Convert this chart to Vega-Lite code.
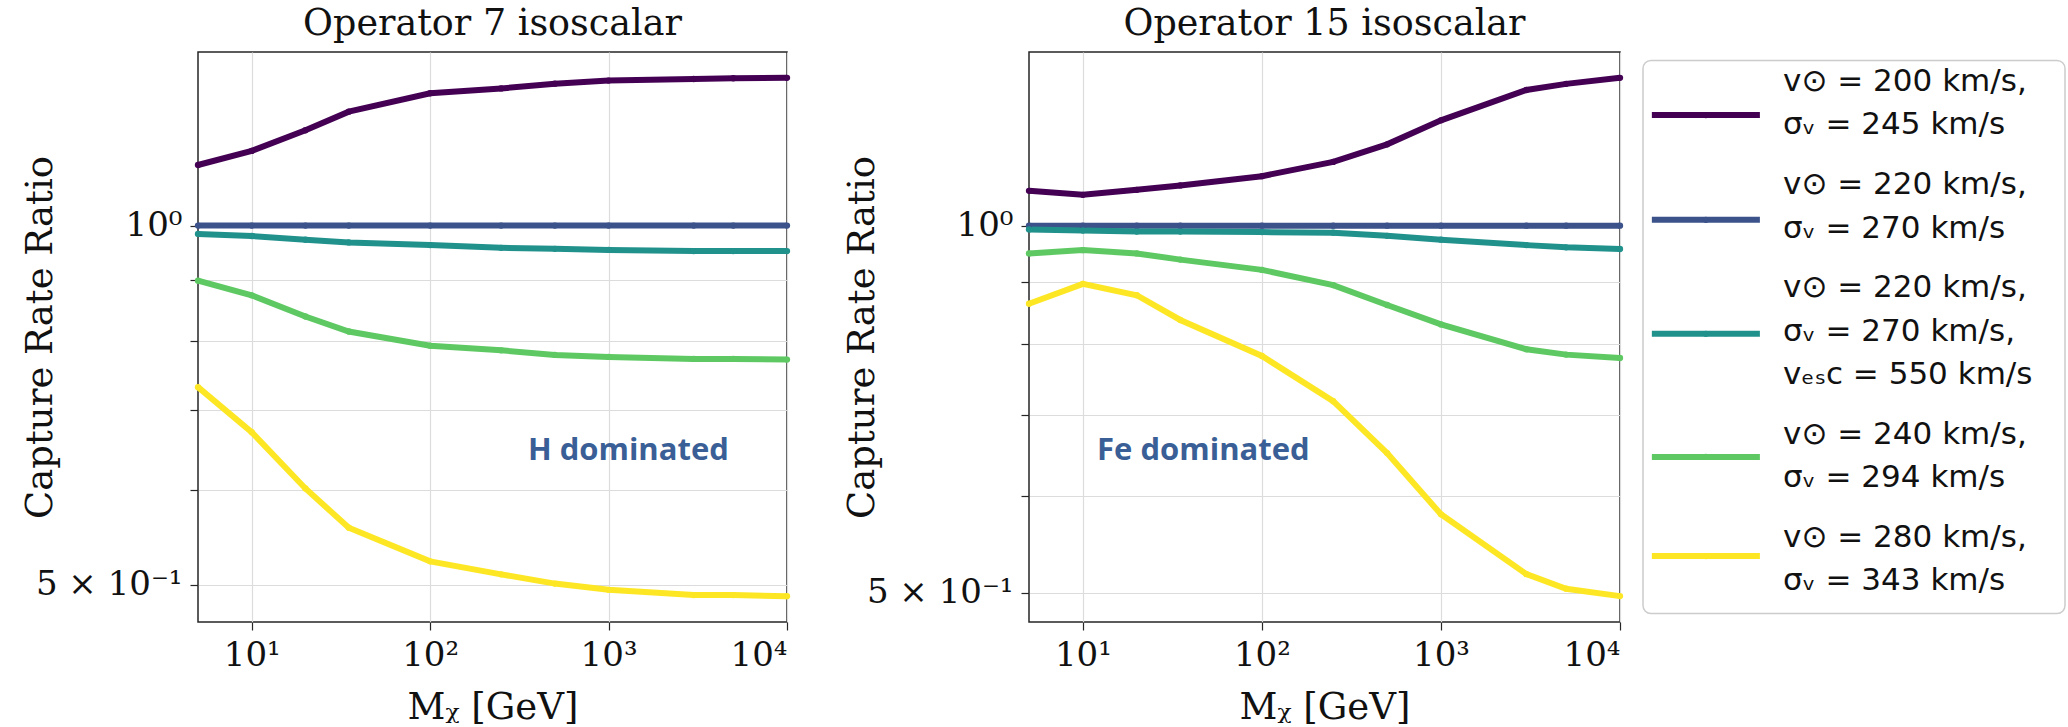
{
  "$schema": "https://vega.github.io/schema/vega-lite/v6.json",
  "autosize": {"type": "none"},
  "padding": {"left": 198, "top": 52, "right": 1870, "bottom": 675},
  "background": "white",
  "datasets": {
    "op7": [
      {"series": "200/245", "m": 5, "ratio": 1.124}, {"series": "200/245", "m": 10, "ratio": 1.155}, {"series": "200/245", "m": 20, "ratio": 1.202}, {"series": "200/245", "m": 35, "ratio": 1.246}, {"series": "200/245", "m": 100, "ratio": 1.291}, {"series": "200/245", "m": 250, "ratio": 1.303}, {"series": "200/245", "m": 500, "ratio": 1.315}, {"series": "200/245", "m": 1000, "ratio": 1.323}, {"series": "200/245", "m": 3000, "ratio": 1.327}, {"series": "200/245", "m": 5000, "ratio": 1.329}, {"series": "200/245", "m": 10000, "ratio": 1.330},
      {"series": "220/270", "m": 5, "ratio": 1.0}, {"series": "220/270", "m": 10, "ratio": 1.0}, {"series": "220/270", "m": 20, "ratio": 1.0}, {"series": "220/270", "m": 35, "ratio": 1.0}, {"series": "220/270", "m": 100, "ratio": 1.0}, {"series": "220/270", "m": 250, "ratio": 1.0}, {"series": "220/270", "m": 500, "ratio": 1.0}, {"series": "220/270", "m": 1000, "ratio": 1.0}, {"series": "220/270", "m": 3000, "ratio": 1.0}, {"series": "220/270", "m": 5000, "ratio": 1.0}, {"series": "220/270", "m": 10000, "ratio": 1.0},
      {"series": "220/270/550", "m": 5, "ratio": 0.984}, {"series": "220/270/550", "m": 10, "ratio": 0.980}, {"series": "220/270/550", "m": 20, "ratio": 0.973}, {"series": "220/270/550", "m": 35, "ratio": 0.968}, {"series": "220/270/550", "m": 100, "ratio": 0.963}, {"series": "220/270/550", "m": 250, "ratio": 0.958}, {"series": "220/270/550", "m": 500, "ratio": 0.956}, {"series": "220/270/550", "m": 1000, "ratio": 0.954}, {"series": "220/270/550", "m": 3000, "ratio": 0.952}, {"series": "220/270/550", "m": 5000, "ratio": 0.952}, {"series": "220/270/550", "m": 10000, "ratio": 0.952},
      {"series": "240/294", "m": 5, "ratio": 0.899}, {"series": "240/294", "m": 10, "ratio": 0.874}, {"series": "240/294", "m": 20, "ratio": 0.839}, {"series": "240/294", "m": 35, "ratio": 0.815}, {"series": "240/294", "m": 100, "ratio": 0.793}, {"series": "240/294", "m": 250, "ratio": 0.786}, {"series": "240/294", "m": 500, "ratio": 0.779}, {"series": "240/294", "m": 1000, "ratio": 0.776}, {"series": "240/294", "m": 3000, "ratio": 0.773}, {"series": "240/294", "m": 5000, "ratio": 0.773}, {"series": "240/294", "m": 10000, "ratio": 0.772},
      {"series": "280/343", "m": 5, "ratio": 0.732}, {"series": "280/343", "m": 10, "ratio": 0.671}, {"series": "280/343", "m": 20, "ratio": 0.602}, {"series": "280/343", "m": 35, "ratio": 0.558}, {"series": "280/343", "m": 100, "ratio": 0.523}, {"series": "280/343", "m": 250, "ratio": 0.510}, {"series": "280/343", "m": 500, "ratio": 0.501}, {"series": "280/343", "m": 1000, "ratio": 0.495}, {"series": "280/343", "m": 3000, "ratio": 0.490}, {"series": "280/343", "m": 5000, "ratio": 0.490}, {"series": "280/343", "m": 10000, "ratio": 0.489}
    ],
    "op15": [
      {"series": "200/245", "m": 5, "ratio": 1.068}, {"series": "200/245", "m": 10, "ratio": 1.060}, {"series": "200/245", "m": 20, "ratio": 1.070}, {"series": "200/245", "m": 35, "ratio": 1.079}, {"series": "200/245", "m": 100, "ratio": 1.098}, {"series": "200/245", "m": 250, "ratio": 1.128}, {"series": "200/245", "m": 500, "ratio": 1.166}, {"series": "200/245", "m": 1000, "ratio": 1.220}, {"series": "200/245", "m": 3000, "ratio": 1.292}, {"series": "200/245", "m": 5000, "ratio": 1.307}, {"series": "200/245", "m": 10000, "ratio": 1.322},
      {"series": "220/270", "m": 5, "ratio": 1.0}, {"series": "220/270", "m": 10, "ratio": 1.0}, {"series": "220/270", "m": 20, "ratio": 1.0}, {"series": "220/270", "m": 35, "ratio": 1.0}, {"series": "220/270", "m": 100, "ratio": 1.0}, {"series": "220/270", "m": 250, "ratio": 1.0}, {"series": "220/270", "m": 500, "ratio": 1.0}, {"series": "220/270", "m": 1000, "ratio": 1.0}, {"series": "220/270", "m": 3000, "ratio": 1.0}, {"series": "220/270", "m": 5000, "ratio": 1.0}, {"series": "220/270", "m": 10000, "ratio": 1.0},
      {"series": "220/270/550", "m": 5, "ratio": 0.993}, {"series": "220/270/550", "m": 10, "ratio": 0.991}, {"series": "220/270/550", "m": 20, "ratio": 0.989}, {"series": "220/270/550", "m": 35, "ratio": 0.989}, {"series": "220/270/550", "m": 100, "ratio": 0.988}, {"series": "220/270/550", "m": 250, "ratio": 0.987}, {"series": "220/270/550", "m": 500, "ratio": 0.981}, {"series": "220/270/550", "m": 1000, "ratio": 0.974}, {"series": "220/270/550", "m": 3000, "ratio": 0.964}, {"series": "220/270/550", "m": 5000, "ratio": 0.960}, {"series": "220/270/550", "m": 10000, "ratio": 0.957},
      {"series": "240/294", "m": 5, "ratio": 0.949}, {"series": "240/294", "m": 10, "ratio": 0.955}, {"series": "240/294", "m": 20, "ratio": 0.949}, {"series": "240/294", "m": 35, "ratio": 0.938}, {"series": "240/294", "m": 100, "ratio": 0.920}, {"series": "240/294", "m": 250, "ratio": 0.894}, {"series": "240/294", "m": 500, "ratio": 0.861}, {"series": "240/294", "m": 1000, "ratio": 0.830}, {"series": "240/294", "m": 3000, "ratio": 0.792}, {"series": "240/294", "m": 5000, "ratio": 0.784}, {"series": "240/294", "m": 10000, "ratio": 0.779},
      {"series": "280/343", "m": 5, "ratio": 0.863}, {"series": "280/343", "m": 10, "ratio": 0.896}, {"series": "280/343", "m": 20, "ratio": 0.877}, {"series": "280/343", "m": 35, "ratio": 0.837}, {"series": "280/343", "m": 100, "ratio": 0.782}, {"series": "280/343", "m": 250, "ratio": 0.718}, {"series": "280/343", "m": 500, "ratio": 0.651}, {"series": "280/343", "m": 1000, "ratio": 0.580}, {"series": "280/343", "m": 3000, "ratio": 0.518}, {"series": "280/343", "m": 5000, "ratio": 0.504}, {"series": "280/343", "m": 10000, "ratio": 0.497}
    ],
    "legendKeys": [
      {"series": "200/245", "slot": 0.76},
      {"series": "220/270", "slot": 3.17},
      {"series": "220/270/550", "slot": 5.79},
      {"series": "240/294", "slot": 8.62},
      {"series": "280/343", "slot": 10.9}
    ],
    "legendText": [
      {"text": "v⊙ = 200 km/s,", "slot": 0},
      {"text": "\u00a0σᵥ = 245 km/s", "slot": 1},
      {"text": "v⊙ = 220 km/s,", "slot": 2.37},
      {"text": "\u00a0σᵥ = 270 km/s", "slot": 3.37},
      {"text": "v⊙ = 220 km/s,", "slot": 4.74},
      {"text": "\u00a0σᵥ = 270 km/s,", "slot": 5.74},
      {"text": "\u00a0vₑₛc = 550 km/s", "slot": 6.74},
      {"text": "v⊙ = 240 km/s,", "slot": 8.11},
      {"text": "\u00a0σᵥ = 294 km/s", "slot": 9.11},
      {"text": "v⊙ = 280 km/s,", "slot": 10.48},
      {"text": "\u00a0σᵥ = 343 km/s", "slot": 11.48}
    ]
  },
  "config": {
    "view": {"stroke": "#262626", "strokeWidth": 1.5},
    "font": "DejaVu Serif",
    "axis": {
      "grid": true, "gridColor": "#dcdcdc", "gridWidth": 1.2, "domain": false,
      "tickColor": "#262626", "tickSize": 8, "tickWidth": 1.2,
      "labelFont": "DejaVu Serif", "labelFontSize": 34, "labelColor": "#111111", "labelPadding": 8,
      "titleFont": "DejaVu Serif", "titleFontSize": 37, "titleFontWeight": "normal", "titleColor": "#111111"
    },
    "title": {"font": "DejaVu Serif", "fontSize": 36.5, "fontWeight": "normal", "color": "#111111", "offset": 10, "baseline": "alphabetic"}
  },
  "spacing": 23,
  "bounds": "flush",
  "center": true,
  "hconcat": [
    {
      "width": 589, "height": 570,
      "title": {"text": "Operator 7 isoscalar"},
      "layer": [
        {
          "data": {"name": "op7"},
          "mark": {"type": "line", "strokeWidth": 6, "point": {"filled": true, "size": 40}},
          "encoding": {
            "x": {"field": "m", "type": "quantitative", "scale": {"type": "log", "domain": [5, 10000], "nice": false},
              "axis": {"values": [10, 100, 1000, 10000], "labelExpr": "datum.value == 10 ? '10¹' : datum.value == 100 ? '10²' : datum.value == 1000 ? '10³' : '10⁴'", "labelBaseline": "top", "title": "Mᵪ [GeV]", "titleY": 96, "titleBaseline": "alphabetic"}},
            "y": {"field": "ratio", "type": "quantitative", "scale": {"type": "log", "domain": [0.4652, 1.398], "nice": false},
              "axis": {"values": [0.5, 0.6, 0.7, 0.8, 0.9, 1], "labelExpr": "datum.value == 1 ? '10⁰' : (datum.value == 0.5 ? '5 × 10⁻¹' : '')", "title": "Capture Rate Ratio", "titleX": -158, "titleY": 285, "titleAlign": "center", "titleBaseline": "middle", "titleAngle": -90}},
            "color": {"field": "series", "type": "nominal", "scale": {"domain": ["200/245", "220/270", "220/270/550", "240/294", "280/343"], "range": ["#440154", "#3b528b", "#21918c", "#5ec962", "#fde725"]}, "legend": null}
          }
        },
        {
          "data": {"values": [{"note": "H dominated", "m": 353, "ratio": 0.636}]},
          "mark": {"type": "text", "font": "Open Sans", "fontWeight": "bold", "fontSize": 31, "color": "#3a5f96", "align": "left", "baseline": "alphabetic"},
          "encoding": {
            "x": {"field": "m", "type": "quantitative"},
            "y": {"field": "ratio", "type": "quantitative"},
            "text": {"field": "note"}
          }
        }
      ]
    },
    {
      "width": 196, "height": 570,
      "view": {"stroke": null},
      "data": {"values": []},
      "mark": "point"
    },
    {
      "width": 591, "height": 570,
      "title": {"text": "Operator 15 isoscalar"},
      "layer": [
        {
          "data": {"name": "op15"},
          "mark": {"type": "line", "strokeWidth": 6, "point": {"filled": true, "size": 40}},
          "encoding": {
            "x": {"field": "m", "type": "quantitative", "scale": {"type": "log", "domain": [5, 10000], "nice": false},
              "axis": {"values": [10, 100, 1000, 10000], "labelExpr": "datum.value == 10 ? '10¹' : datum.value == 100 ? '10²' : datum.value == 1000 ? '10³' : '10⁴'", "labelBaseline": "top", "title": "Mᵪ [GeV]", "titleY": 96, "titleBaseline": "alphabetic"}},
            "y": {"field": "ratio", "type": "quantitative", "scale": {"type": "log", "domain": [0.4733, 1.388], "nice": false},
              "axis": {"values": [0.5, 0.6, 0.7, 0.8, 0.9, 1], "labelExpr": "datum.value == 1 ? '10⁰' : (datum.value == 0.5 ? '5 × 10⁻¹' : '')", "title": "Capture Rate Ratio", "titleX": -167, "titleY": 285, "titleAlign": "center", "titleBaseline": "middle", "titleAngle": -90}},
            "color": {"field": "series", "type": "nominal", "scale": {"domain": ["200/245", "220/270", "220/270/550", "240/294", "280/343"], "range": ["#440154", "#3b528b", "#21918c", "#5ec962", "#fde725"]}, "legend": null}
          }
        },
        {
          "data": {"values": [{"note": "Fe dominated", "m": 12.0, "ratio": 0.643}]},
          "mark": {"type": "text", "font": "Open Sans", "fontWeight": "bold", "fontSize": 31, "color": "#3a5f96", "align": "left", "baseline": "alphabetic"},
          "encoding": {
            "x": {"field": "m", "type": "quantitative"},
            "y": {"field": "ratio", "type": "quantitative"},
            "text": {"field": "note"}
          }
        }
      ]
    },
    {
      "width": 422, "height": 553,
      "view": {"stroke": "#cccccc", "strokeWidth": 1.5, "cornerRadius": 8, "fill": "white"},
      "layer": [
        {
          "data": {"name": "legendKeys"},
          "mark": {"type": "rule", "strokeWidth": 6},
          "encoding": {
            "x": {"datum": 0.021, "type": "quantitative", "scale": {"domain": [0, 1], "nice": false, "zero": false}, "axis": null},
            "x2": {"datum": 0.277},
            "y": {"field": "slot", "type": "quantitative", "scale": {"domain": [-0.494, 12.22], "reverse": true, "nice": false, "zero": false}, "axis": null},
            "color": {"field": "series", "type": "nominal", "scale": {"domain": ["200/245", "220/270", "220/270/550", "240/294", "280/343"], "range": ["#440154", "#3b528b", "#21918c", "#5ec962", "#fde725"]}, "legend": null}
          }
        },
        {
          "data": {"name": "legendKeys"},
          "mark": {"type": "point", "filled": true, "size": 40, "opacity": 1},
          "encoding": {
            "x": {"datum": 0.149, "type": "quantitative"},
            "y": {"field": "slot", "type": "quantitative"},
            "color": {"field": "series", "type": "nominal", "legend": null}
          }
        },
        {
          "data": {"name": "legendText"},
          "mark": {"type": "text", "font": "DejaVu Sans", "fontSize": 31, "align": "left", "baseline": "middle", "color": "#111111"},
          "encoding": {
            "x": {"datum": 0.332, "type": "quantitative"},
            "y": {"field": "slot", "type": "quantitative"},
            "text": {"field": "text"}
          }
        }
      ]
    }
  ]
}
